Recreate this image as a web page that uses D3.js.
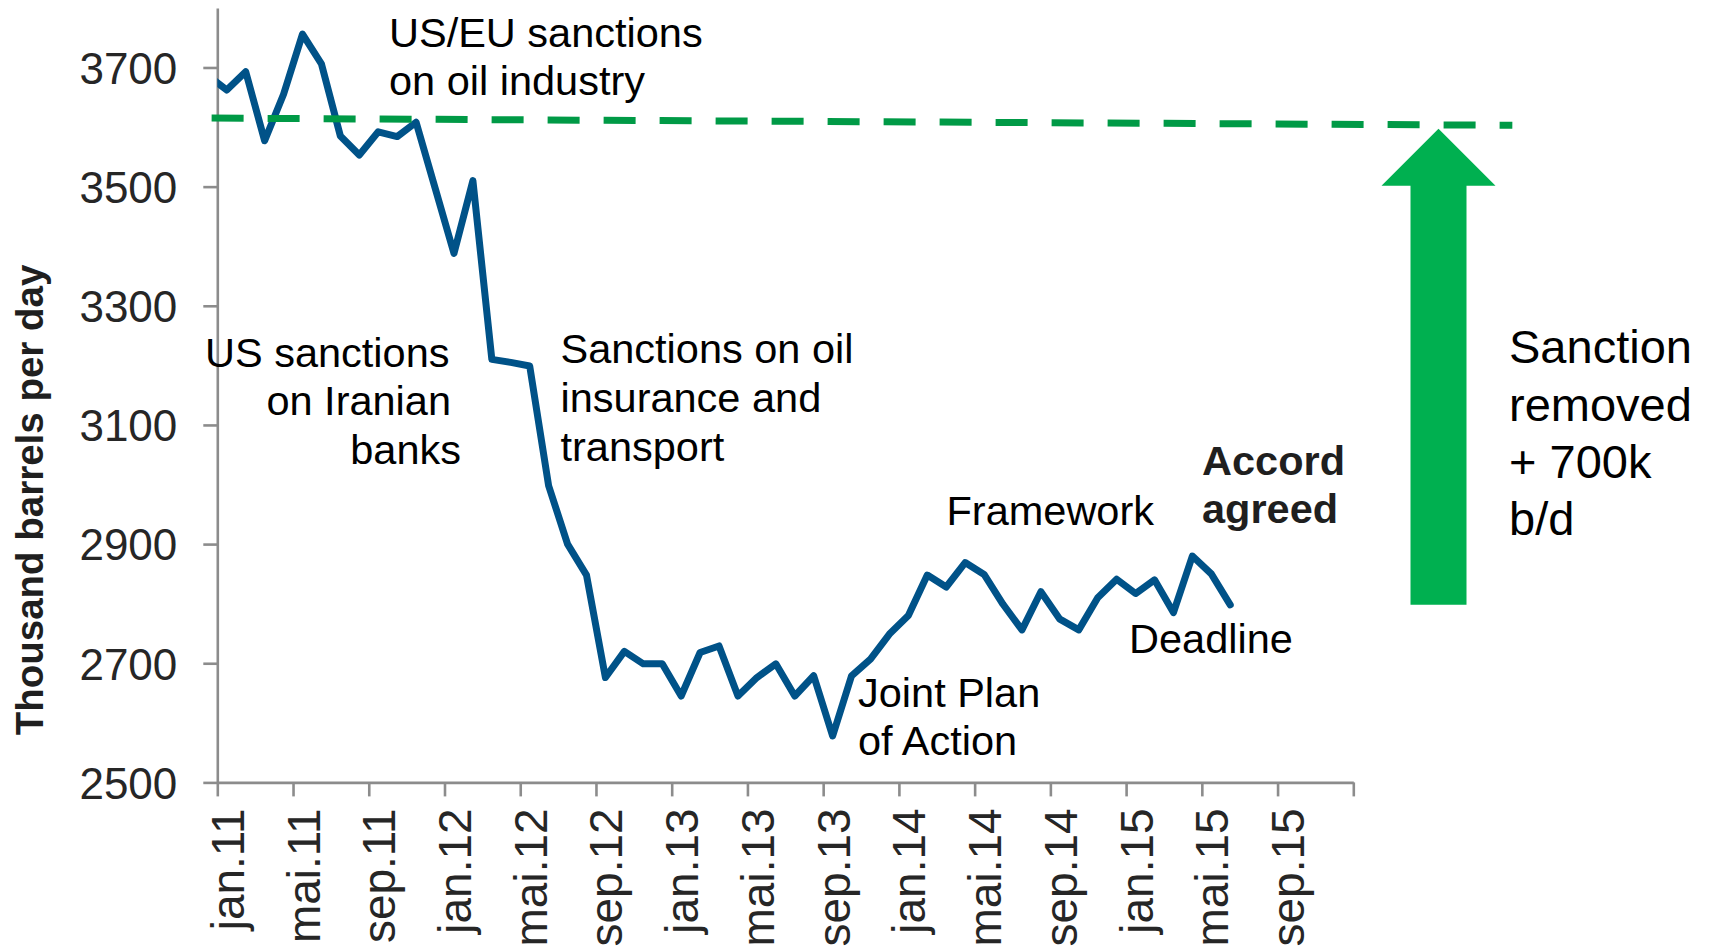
<!DOCTYPE html>
<html>
<head>
<meta charset="utf-8">
<script src="https://cdn.jsdelivr.net/npm/d3@7"></script>
<style>
  html, body { margin: 0; padding: 0; background: #fff; }
  svg { display: block; font-family: "Liberation Sans", Arial, sans-serif; }
  .axis path, .axis line { stroke: #8c8c8c; stroke-width: 2.6; }
  .axis text { fill: #262626; font-size: 44px; }
  .axis.x text { font-size: 46px; }
  .note { fill: #000; font-size: 41.5px; }
  .note.bold { font-weight: bold; fill: #1f1f1f; }
  .note.big { font-size: 47px; }
</style>
</head>
<body>
<svg id="chart" width="1711" height="950"></svg>
<script>
// Iranian crude output, thousand b/d, monthly from dec.10 (clipped) to jun.15
const firstMonth = -1; // dec.10, months counted from jan.11
const values = [
  3687, 3662, 3693, 3577, 3655, 3756, 3706, 3585, 3553, 3592, 3584, 3608, 3498,
  3388, 3510, 3210, 3205, 3199, 2998, 2900, 2848, 2676, 2720, 2699, 2699,
  2645, 2718, 2729, 2645, 2676, 2699, 2645, 2679, 2578, 2679, 2707, 2749,
  2780, 2848, 2828, 2869, 2849, 2799, 2756, 2820, 2774, 2756, 2810, 2841,
  2817, 2840, 2785, 2880, 2850, 2798
];

const yTicks = [2500, 2700, 2900, 3100, 3300, 3500, 3700];
const xTickMonths = [0, 4, 8, 12, 16, 20, 24, 28, 32, 36, 40, 44, 48, 52, 56, 60];
const xTickLabels = [
  "jan.11", "mai.11", "sep.11", "jan.12", "mai.12", "sep.12", "jan.13", "mai.13",
  "sep.13", "jan.14", "mai.14", "sep.14", "jan.15", "mai.15", "sep.15", ""
];

// pre-sanction level (dashed) and the arrow back up to it
const refMonths = [-0.3, 68.4];
const refValues = [3615, 3603];
const arrowMonth = 64.5;
const arrowTop = 3597;

const notes = [
  { lines: ["US/EU sanctions", "on oil industry"], x: 389, y: 46.7, anchor: "start" },
  { lines: ["US sanctions", "on Iranian", "banks"], x: [449.5, 451, 461], y: 366.7, anchor: "end" },
  { lines: ["Sanctions on oil", "insurance and", "transport"], x: 560.5, y: 363.3, anchor: "start" },
  { lines: ["Joint Plan", "of Action"], x: 858, y: 706.7, anchor: "start" },
  { lines: ["Framework"], x: 946.5, y: 525, anchor: "start" },
  { lines: ["Accord", "agreed"], x: 1202, y: 475, anchor: "start", cls: "bold", lh: 47.7 },
  { lines: ["Deadline"], x: 1129, y: 652.7, anchor: "start" },
  { lines: ["Sanction", "removed", "+ 700k", "b/d"], x: 1509, y: 363.3, anchor: "start", cls: "big", lh: 57.3 }
];

const svg = d3.select("#chart");

const x = d3.scaleLinear().domain([0, 60]).range([217.3, 1353.3]);
const y = d3.scaleLinear().domain([2500, 3800]).range([782.4, 7.9]);

svg.append("defs").append("clipPath").attr("id", "plot")
  .append("rect")
  .attr("x", x(0)).attr("y", 0)
  .attr("width", x(60) - x(0)).attr("height", y(2500));

/* axes */
const yAxis = svg.append("g")
  .attr("class", "axis y")
  .attr("transform", `translate(${x(0)},0)`)
  .call(
    d3.axisLeft(y)
      .tickValues(yTicks)
      .tickFormat(d3.format("d"))
      .tickSize(14)
      .tickSizeOuter(0)
      .tickPadding(26)
  );
yAxis.selectAll("text").attr("dy", "0.36em");

const xAxis = svg.append("g")
  .attr("class", "axis x")
  .attr("transform", `translate(0,${y(2500)})`)
  .call(
    d3.axisBottom(x)
      .tickValues(xTickMonths)
      .tickSize(14)
      .tickSizeOuter(0)
      .tickFormat((d, i) => xTickLabels[i])
  );
xAxis.selectAll("text")
  .attr("transform", "rotate(-90)")
  .attr("x", -26)
  .attr("y", 26)
  .attr("dy", 0)
  .attr("text-anchor", "end");

svg.append("text")
  .attr("transform", "translate(43.3,500) rotate(-90)")
  .attr("text-anchor", "middle")
  .attr("font-weight", "bold")
  .attr("font-size", 38.5)
  .attr("fill", "#1f1f1f")
  .text("Thousand barrels per day");

/* production line, points at mid-month */
const line = d3.line()
  .x((d, i) => x(firstMonth + i + 0.5))
  .y((d) => y(d));

svg.append("path")
  .datum(values)
  .attr("clip-path", "url(#plot)")
  .attr("fill", "none")
  .attr("stroke", "#005288")
  .attr("stroke-width", 7)
  .attr("stroke-linejoin", "round")
  .attr("stroke-linecap", "round")
  .attr("d", line);

/* dashed reference */
svg.append("path")
  .datum(d3.zip(refMonths, refValues))
  .attr("fill", "none")
  .attr("stroke", "#009a46")
  .attr("stroke-width", 7)
  .attr("stroke-dasharray", "32,24")
  .attr("d", d3.line().x((d) => x(d[0])).y((d) => y(d[1])));

/* arrow */
const ax = x(arrowMonth);
const aTop = y(arrowTop);
const aBase = y(values[values.length - 1]);
const shaftW = 56, headW = 114, headH = 57;
svg.append("path")
  .attr("fill", "#00b050")
  .attr("d", [
    [ax, aTop],
    [ax + headW / 2, aTop + headH],
    [ax + shaftW / 2, aTop + headH],
    [ax + shaftW / 2, aBase],
    [ax - shaftW / 2, aBase],
    [ax - shaftW / 2, aTop + headH],
    [ax - headW / 2, aTop + headH]
  ].map((p, i) => (i ? "L" : "M") + p[0] + "," + p[1]).join("") + "Z");

/* annotations */
notes.forEach((n) => {
  const t = svg.append("text")
    .attr("class", "note" + (n.cls ? " " + n.cls : ""))
    .attr("text-anchor", n.anchor);
  const lh = n.lh || 48.6;
  n.lines.forEach((s, i) => {
    t.append("tspan")
      .attr("x", Array.isArray(n.x) ? n.x[i] : n.x)
      .attr("y", n.y + i * lh)
      .text(s);
  });
});
</script>
</body>
</html>
